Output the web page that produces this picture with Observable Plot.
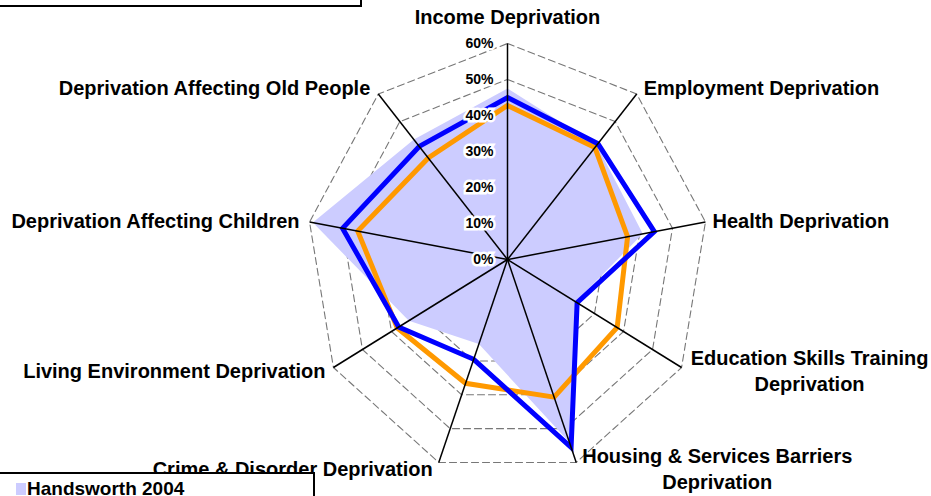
<!DOCTYPE html>
<html><head><meta charset="utf-8">
<script src="https://cdn.jsdelivr.net/npm/d3@7"></script>
<script src="https://cdn.jsdelivr.net/npm/@observablehq/plot@0.6"></script>
<style>
body{margin:0;background:#fff;}
#wrap{position:relative;width:931px;height:496px;overflow:hidden;font-family:"Liberation Sans",Arial,sans-serif;}
.box{position:absolute;background:#fff;border:2px solid #000;box-sizing:border-box;}
.sw{position:absolute;background:#ccccff;}
.lt{position:absolute;font-weight:bold;font-size:19px;line-height:19px;color:#000;white-space:nowrap;}
</style></head><body><div id="wrap"></div>
<script>
// ---- data ----
const categories = [
  "Income Deprivation",
  "Employment Deprivation",
  "Health Deprivation",
  "Education Skills Training\nDeprivation",
  "Housing & Services Barriers\nDeprivation",
  "Crime & Disorder Deprivation",
  "Living Environment Deprivation",
  "Deprivation Affecting Children",
  "Deprivation Affecting Old People"
];
const handsworth2004 = [47.5, 41.5, 41, 23.5, 54, 25, 34, 59, 43.5];
const blueSeries     = [45, 42, 44.5, 24, 55.5, 29.5, 37.5, 50, 41];
const orangeSeries   = [42.8, 40.6, 36.4, 37.8, 40.7, 36.6, 38, 45.4, 36.8];
const tickValues = [0, 10, 20, 30, 40, 50, 60];
const tickLabels = ["0%", "10%", "20%", "30%", "40%", "50%", "60%"];
const legendLabel = "Handsworth 2004";

// ---- layout (styles, not data) ----
const labelLayout = [
  {anchor: "middle", dx: 0, dy: -28},
  {anchor: "start", dx: 7, dy: -8},
  {anchor: "start", dx: 7, dy: -3},
  {anchor: "middle", dx: 128, dy: 2},
  {anchor: "middle", dx: 141, dy: 5},
  {anchor: "end", dx: -6, dy: 5},
  {anchor: "end", dx: -8, dy: 2},
  {anchor: "end", dx: -10, dy: -3},
  {anchor: "end", dx: -8, dy: -8}
];

const n = categories.length;
const ang = i => i * 2 * Math.PI / n;
const toPts = (vals) => vals.map((v, i) => ({i, x: v / 100 * Math.sin(ang(i)), y: v / 100 * Math.cos(ang(i))}));
const maxV = tickValues[tickValues.length - 1] / 100;

const gridPts = [];
tickValues.filter(t => t > 0).forEach(t => {
  categories.forEach((c, i) => gridPts.push({level: t, x: t / 100 * Math.sin(ang(i)), y: t / 100 * Math.cos(ang(i))}));
});
const spokes = categories.map((c, i) => ({i, c, x: maxV * Math.sin(ang(i)), y: maxV * Math.cos(ang(i))}));

const font = "Liberation Sans, Arial, sans-serif";
const labelMarks = spokes.map((s, k) => Plot.text([s], {
  x: "x", y: "y", text: "c",
  textAnchor: labelLayout[k].anchor, dx: labelLayout[k].dx, dy: labelLayout[k].dy,
  fontSize: 20, fontWeight: "bold", fill: "#000", lineHeight: 1.33, fontFamily: font
}));

const plot = Plot.plot({
  width: 931, height: 496,
  marginTop: 0, marginBottom: 0, marginLeft: 0, marginRight: 0,
  x: {domain: [-maxV, maxV], range: [306, 708], axis: null},
  y: {domain: [-maxV, maxV], range: [475, 43], axis: null},
  style: {fontFamily: font, background: "#fff"},
  marks: [
    Plot.line(gridPts, {x: "x", y: "y", z: "level", curve: "linear-closed", stroke: "#777", strokeWidth: 1.1, strokeDasharray: "7,4"}),
    Plot.line(toPts(handsworth2004), {x: "x", y: "y", curve: "linear-closed", fill: "#ccccff", stroke: "none"}),
    Plot.line(toPts(orangeSeries), {x: "x", y: "y", curve: "linear-closed", stroke: "#ff9900", strokeWidth: 5, strokeLinejoin: "miter", strokeMiterlimit: 4}),
    Plot.line(toPts(blueSeries), {x: "x", y: "y", curve: "linear-closed", stroke: "#0000ff", strokeWidth: 5, strokeLinejoin: "miter", strokeMiterlimit: 4}),
    Plot.link(spokes, {x1: () => 0, y1: () => 0, x2: "x", y2: "y", stroke: "#000", strokeWidth: 1.5}),
    Plot.text(tickValues, {x: () => 0, y: d => d / 100, text: (d, i) => tickLabels[i], textAnchor: "end", dx: -14,
      fontSize: 14, fontWeight: "bold", fill: "#000", stroke: "#fff", strokeWidth: 5, strokeLinejoin: "miter", paintOrder: "stroke"}),
    ...labelMarks
  ]
});

const wrap = document.getElementById("wrap");
wrap.appendChild(plot);

// legend boxes (cut off at the picture edges, as in the reference)
const topBox = document.createElement("div");
topBox.className = "box";
Object.assign(topBox.style, {left: "-2px", top: "-32px", width: "364px", height: "39px"});
wrap.appendChild(topBox);

const botBox = document.createElement("div");
botBox.className = "box";
Object.assign(botBox.style, {left: "-2px", top: "472px", width: "317px", height: "40px"});
wrap.appendChild(botBox);
const sw = document.createElement("div");
sw.className = "sw";
Object.assign(sw.style, {left: "16px", top: "483px", width: "10px", height: "12px"});
wrap.appendChild(sw);
const lt = document.createElement("div");
lt.className = "lt";
lt.textContent = legendLabel;
Object.assign(lt.style, {left: "27px", top: "479px"});
wrap.appendChild(lt);
</script>
</body></html>
